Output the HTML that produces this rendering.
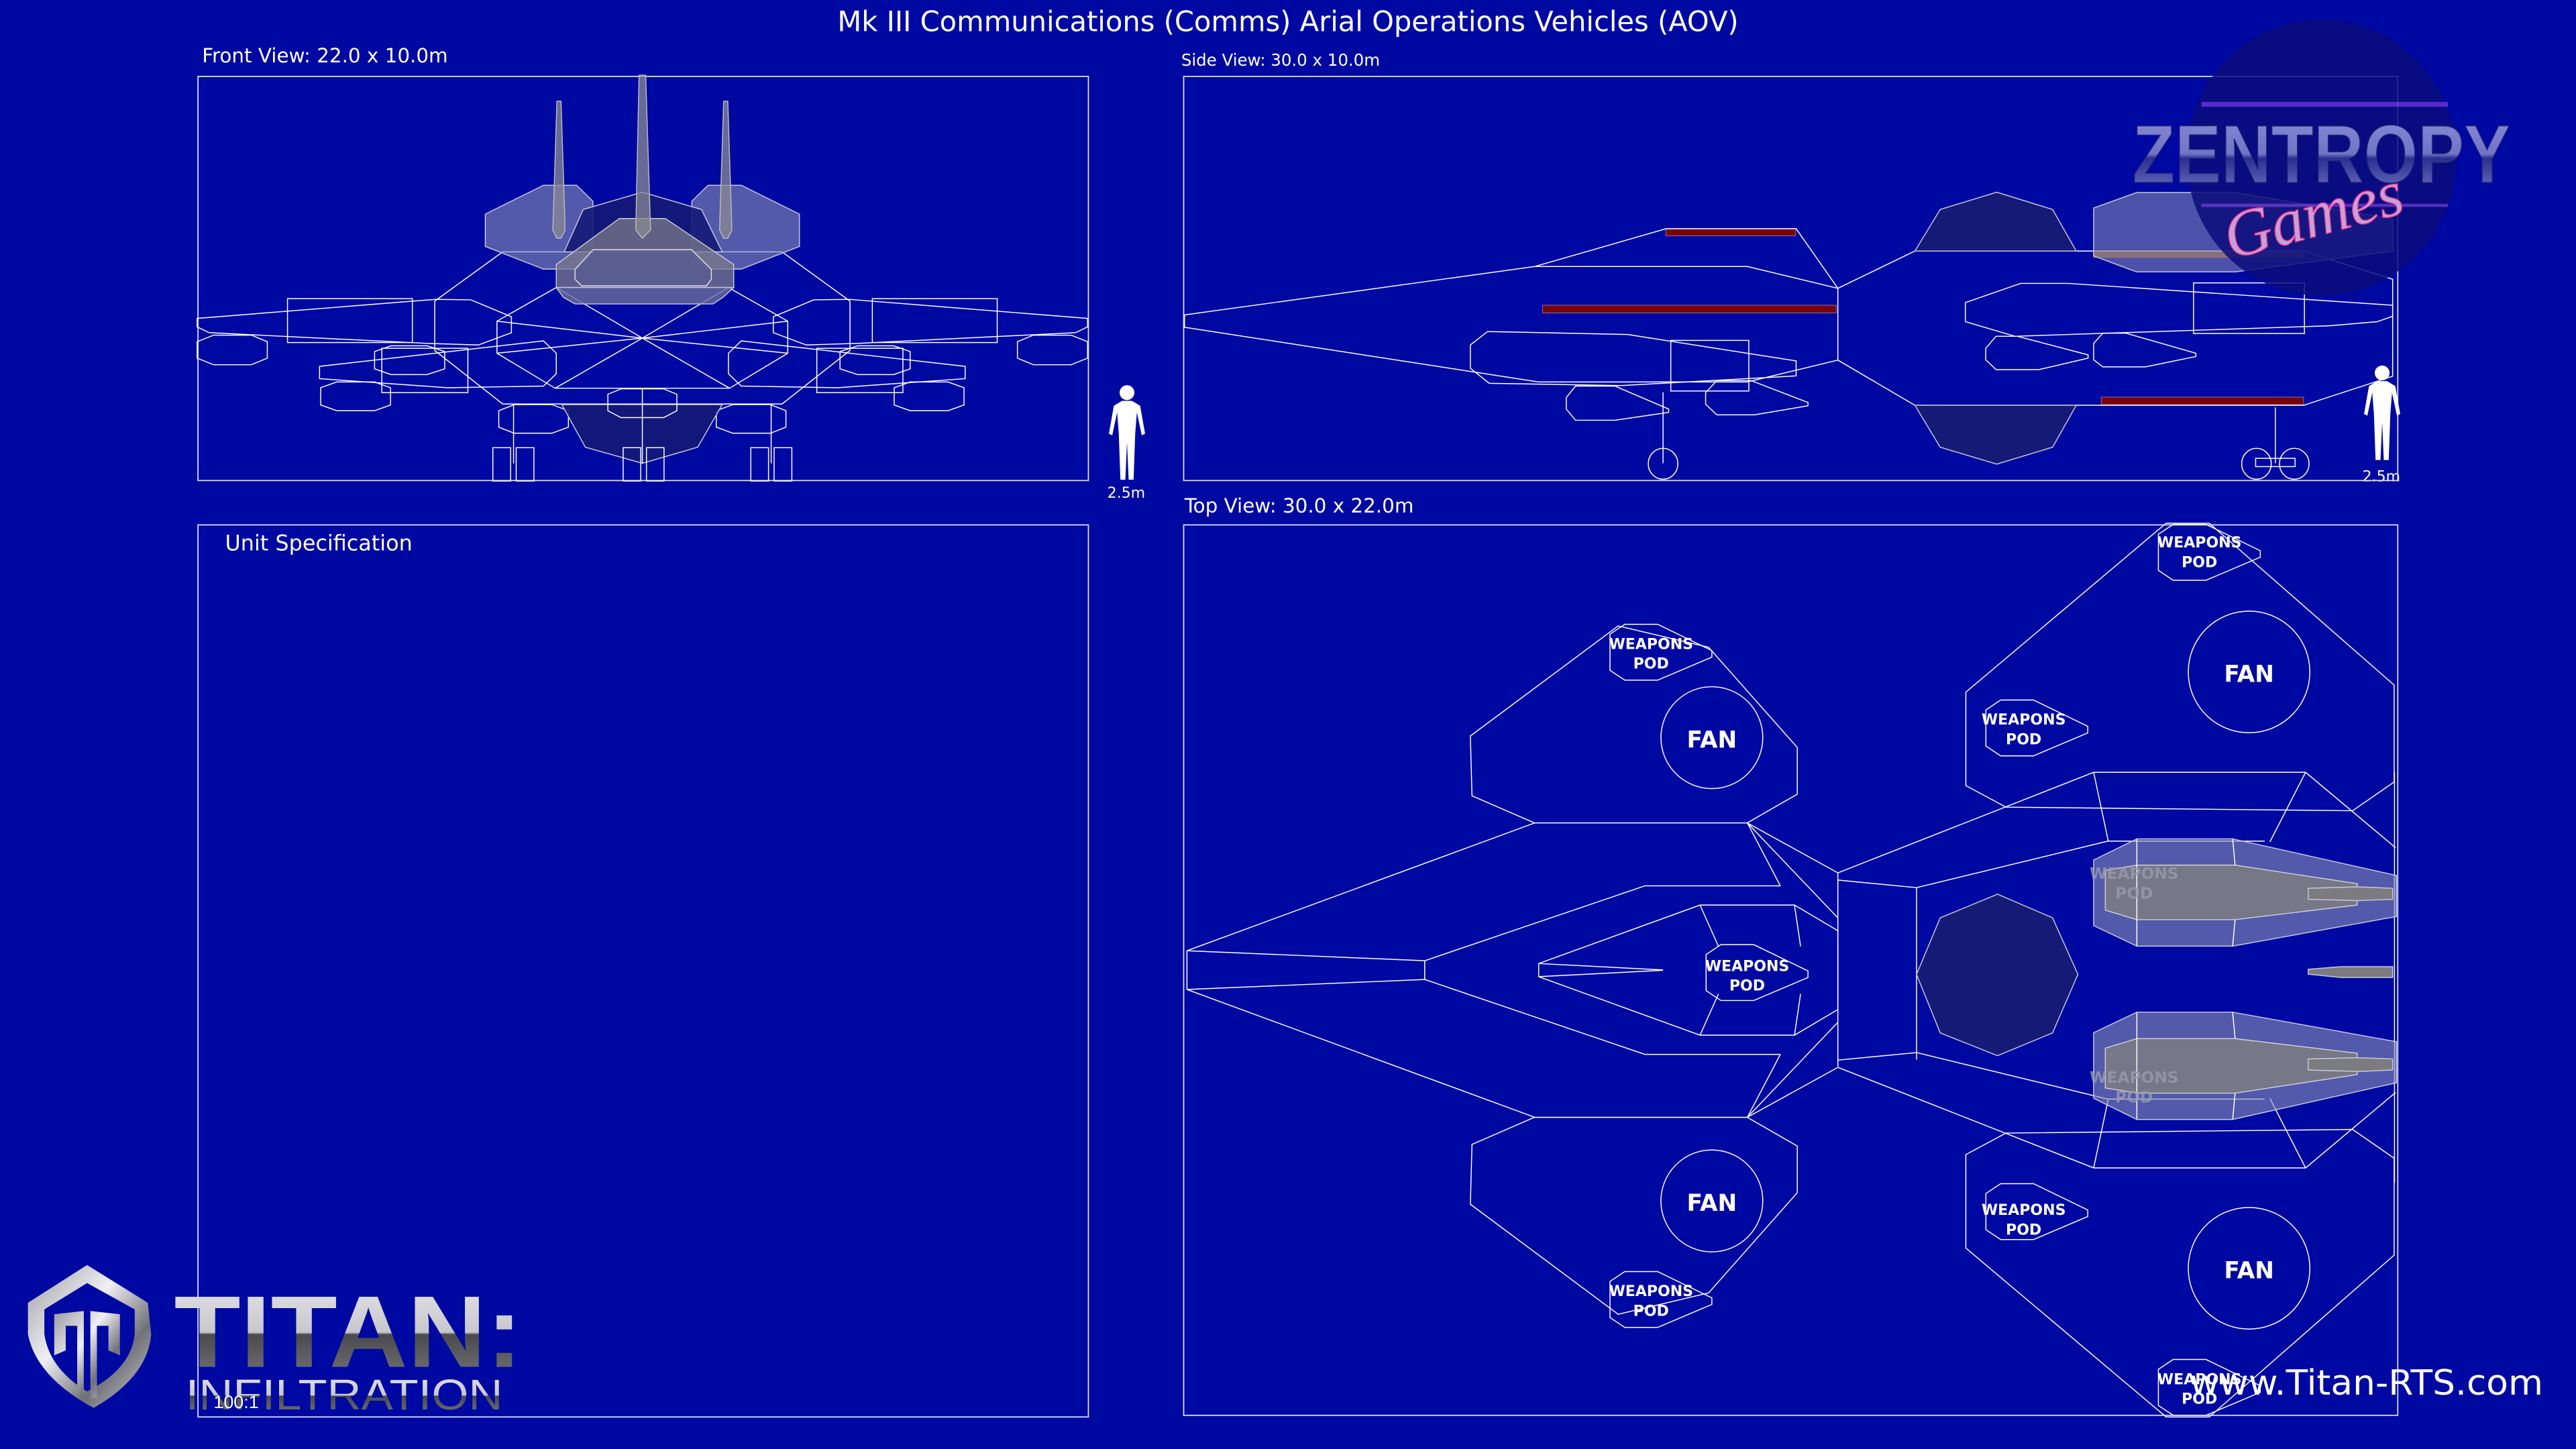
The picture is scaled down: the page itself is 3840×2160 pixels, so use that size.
<!DOCTYPE html>
<html><head><meta charset="utf-8"><style>
html,body{margin:0;padding:0;background:#0008a2;}
svg{display:block}
</style></head><body>
<svg width="3840" height="2160" viewBox="0 0 1568 882" preserveAspectRatio="none" xmlns="http://www.w3.org/2000/svg">
<rect x="0" y="0" width="1568" height="882" fill="#0008a2"/>
<g font-family="'DejaVu Sans','Liberation Sans',sans-serif" fill="#fff">
<text x="784" y="19" font-size="17" text-anchor="middle">Mk III Communications (Comms) Arial Operations Vehicles (AOV)</text>
<text x="123" y="38" font-size="12">Front View: 22.0 x 10.0m</text>
<text x="719" y="40" font-size="10">Side View: 30.0 x 10.0m</text>
<text x="137" y="335" font-size="13">Unit Specification</text>
<text x="721" y="312" font-size="12">Top View: 30.0 x 22.0m</text>
<text x="674" y="303" font-size="9">2.5m</text>
<text x="1438" y="293" font-size="9">2.5m</text>
</g>
<g fill="none" stroke="#dfe2ff" stroke-width="0.7">
<rect x="120.5" y="46.5" width="542" height="246"/>
<rect x="720.5" y="46.5" width="739" height="246"/>
<rect x="120.5" y="319.5" width="542" height="543"/>
<rect x="720.5" y="319.5" width="739" height="542"/>
</g>

<!-- FRONT VIEW -->
<g stroke="#fff" stroke-width="0.6" fill="none">
 <g id="fhalf">
  <polygon points="120,193.8 265.3,182.2 286.6,182.5 311.3,192.8 311.3,202.5 291.2,210 260,209 127.3,202.5 120,199"/>
  <rect x="175" y="181.8" width="76" height="26.7"/>
  <polygon points="194.5,223 330.8,207.5 338.6,215 338.6,227.5 330.8,235 272.4,236 194.5,230.5"/>
  <rect x="232.4" y="212" width="52.4" height="27"/>
  <polygon points="120,208 130,204 153,204 162.7,208 162.7,218 153,222 130,222 120,218"/>
  <polygon points="228,214 238,210.5 260,210.5 270.7,214 270.7,224.5 260,228 238,228 228,224.5"/>
  <polygon points="195.2,236 205,232.5 228,232.5 237.7,236 237.7,246.5 228,250 205,250 195.2,246.5"/>
  <polygon points="303.6,250 313,246.3 336,246.3 346,250 346,260 336,263.7 313,263.7 303.6,260"/>
  <rect x="300" y="272.5" width="10.8" height="20.3"/>
  <rect x="314.2" y="272.5" width="10.8" height="20.3"/>
  <line x1="312.6" y1="246" x2="312.6" y2="282"/>
  <polyline points="391,153.3 306,153.3 264.6,183.3 264.6,213.3 306,245.9 391,245.9"/>
  <polyline points="391,175 338.6,175 302.5,195.5 302.5,215 337.9,236.3 391,236.3"/>
  <line x1="391" y1="205.8" x2="338.6" y2="175"/>
  <line x1="391" y1="205.8" x2="302.5" y2="195.5"/>
  <line x1="391" y1="205.8" x2="302.5" y2="215"/>
  <line x1="391" y1="205.8" x2="337.9" y2="236.3"/>
  <polygon points="295.4,130.3 330.8,112.8 351,112.8 360.9,122.5 360.9,154.2 351,163.8 330.8,163.8 295.4,150" fill="#8a8fb0" fill-opacity="0.6" stroke="#c8c8d8"/>
  <polygon points="339,61.6 341.5,61.6 344,140 341.5,145 339,145 336.5,140" fill="#8a8a92" fill-opacity="0.75" stroke="#bbb"/>
 </g>
 <use href="#fhalf" transform="matrix(-1,0,0,1,782,0)"/>
 <polygon points="343.4,153.3 355,127.5 391,117 427,127.5 439.6,153.3" fill="#141a75" fill-opacity="0.9" stroke="#c8c8d8"/>
 <polygon points="377,133 405,133 446.6,161 446.6,175 338.6,175 338.6,161" fill="#7b7b88" fill-opacity="0.75" stroke="#c8c8d8"/>
 <polygon points="338.6,175 446.6,175 440,181 434,185 350,185 343,181" fill="#6c6e9a" fill-opacity="0.8" stroke="#c8c8d8"/>
 <polygon points="350,164 361,152 421,152 433,164 433,170 430,174 354,174 350,170" fill="#5a5c90" fill-opacity="0.8" stroke="#e0e0ea"/>
 <polygon points="389,45.8 393,45.8 396,140 391,145 387,140" fill="#8a8a92" fill-opacity="0.75" stroke="#bbb"/>
 <polygon points="342,246.3 439.6,246.3 424.7,272.2 391,282 356.3,272.2" fill="#141a75" fill-opacity="0.9" stroke="#c8c8d8"/>
 <polygon points="370,240 378,236.7 404,236.7 412,240 412,250 404,254.2 378,254.2 370,250"/>
 <line x1="391" y1="236" x2="391" y2="282"/>
 <rect x="379.3" y="272.5" width="10.7" height="20.3"/>
 <rect x="393.5" y="272.5" width="10.7" height="20.3"/>
</g>

<!-- SIDE VIEW -->
<g stroke="#fff" stroke-width="0.6" fill="none">
 <polygon points="721,191.7 934.3,162.2 1063.6,162.2 1118.7,175.5 1118.7,219.2 1063.6,232.5 936.6,232.5 721,199.2"/>
 <polyline points="934.3,162.2 1014.2,139.2 1093.3,139.2 1118.7,175.5"/>
 <polyline points="1118.7,175.5 1165.6,152.8 1402,152.8 1456.4,170 1456.4,229 1402.2,246.7 1165.6,246.7 1118.7,219.2"/>
 <polygon points="1165.6,152.8 1181,127.5 1215.4,117 1249.4,127.5 1263.8,152.8" fill="#141a75" stroke="#c8c8d8"/>
 <polygon points="1165.6,246.7 1181,272.2 1215.4,282.5 1249.4,272.2 1263.8,246.7" fill="#141a75" stroke="#c8c8d8"/>
 <rect x="1274" y="153" width="128" height="4" fill="#8a4a40" stroke="none"/>
 <polygon points="1274.4,126.6 1300.6,117.2 1360.6,117.2 1456.4,133.3 1456.4,152.8 1360.6,165.5 1300.6,165.5 1274.4,155.8" fill="#8a8fb0" fill-opacity="0.55" stroke="#c8c8d8"/>
 <polygon points="1196.3,184.2 1230,172.5 1259,172.5 1456.4,185.8 1456.4,192.5 1447,195.8 1418,198.3 1226.5,204.7 1196.3,195.8"/>
 <rect x="1335.2" y="172.2" width="67.5" height="30.8"/>
 <polygon points="1208.7,212 1215,204.7 1228,204.7 1271,216 1271,218 1241,225 1215,225 1208.7,219"/>
 <polygon points="1274.4,209 1280,202.8 1294,202.8 1336.6,215 1336.6,217 1306,223.3 1280,223.3 1274.4,219"/>
 <polygon points="905.5,201.8 990.8,203.6 1093.3,219.7 1093.3,228.8 987,234.7 906.5,233.3 895,224.2 895,210"/>
 <rect x="1017" y="207.2" width="47.5" height="30.8"/>
 <polygon points="953.4,242 959,235 983,235 1015.7,249 1015.7,251 983,255.8 959,255.8 953.4,249"/>
 <polygon points="1038.2,239 1045,231.7 1066,231.7 1100.5,245 1100.5,247 1068,252.5 1045,252.5 1038.2,246"/>
 <rect x="1014" y="139.5" width="79" height="4" fill="#7a0008" stroke="#9a9ab8" stroke-width="0.3"/>
 <rect x="939" y="185.8" width="178.7" height="4.7" fill="#7a0008" stroke="#9a9ab8" stroke-width="0.3"/>
 <rect x="1279" y="241.7" width="123.2" height="4.6" fill="#7a0008" stroke="#9a9ab8" stroke-width="0.3"/>
 <line x1="1012.3" y1="238.8" x2="1012.3" y2="282"/>
 <ellipse cx="1012.3" cy="282.3" rx="9" ry="9.4"/>
 <ellipse cx="1373.5" cy="282.3" rx="9" ry="9.4"/>
 <ellipse cx="1396.5" cy="282.3" rx="9" ry="9.4"/>
 <line x1="1385" y1="248" x2="1385" y2="282"/>
 <rect x="1373" y="279" width="24" height="5"/>
</g>

<!-- TOP VIEW -->
<g stroke="#fff" stroke-width="0.6" fill="none">
 <g id="wingsTop">
  <polygon points="895,448 985,381 1040,394 1094,455 1094,483.4 1063.6,500.9 934,500.9 896,484.4"/>
  <polygon points="1196.6,421.3 1318.5,318.5 1344.8,318.5 1457.3,417 1457.3,476 1432,493.5 1221,491.3 1196.6,478.2"/>
  <polyline points="1118.7,531.3 1274.4,470.1 1403.4,470.1 1458.2,516"/>
  <line x1="1274.4" y1="470.1" x2="1283.3" y2="512"/>
  <line x1="1403.4" y1="470.1" x2="1381.7" y2="512.4"/>
  <polyline points="1166.6,540.3 1283,512 1378.5,512"/>
  <line x1="1063.6" y1="500.9" x2="1083.7" y2="539.2"/>
  <line x1="1063.6" y1="500.9" x2="1118.7" y2="558.7"/>
  <polyline points="867.2,584.8 1001.3,539.2 1083.7,539.2"/>
  <polyline points="936.6,586.5 1034.8,550.9 1092.3,550.9 1118.7,566.5"/>
  <line x1="936.6" y1="586.5" x2="1012.3" y2="590.4"/>
  <line x1="1034.8" y1="550.9" x2="1046" y2="576"/>
  <line x1="1092.3" y1="550.9" x2="1096" y2="576"/>
  <polyline points="722.5,578.7 934.2,500.9 1063.6,500.9 1118.7,531.3"/>
  <line x1="722.5" y1="578.7" x2="867.2" y2="584.8"/>
  <line x1="1118.7" y1="535.7" x2="1166.6" y2="540.3"/>
 </g>
 <use href="#wingsTop" transform="matrix(1,0,0,-1,0,1181)"/>
 <line x1="722.5" y1="578.7" x2="722.5" y2="602.3"/>
 <line x1="867.2" y1="584.8" x2="867.2" y2="596.2"/>
 <line x1="936.6" y1="586.5" x2="936.6" y2="594.5"/>
 <polyline points="1118.7,531.3 1118.7,649.3"/>
 <polyline points="1166.6,540.3 1166.6,645"/>
 <line x1="1118.7" y1="566.5" x2="1118.7" y2="614.5"/>
 <polygon points="1215.9,544.3 1249.4,558.7 1264.8,593.1 1249.4,628.7 1215.9,642.6 1181,628.7 1166.6,593.1 1181,558.7" fill="#141a75" stroke="#c8c8d8"/>
 <line x1="1457.5" y1="470" x2="1457.5" y2="720"/>
 <g id="eng">
  <polygon points="1300.7,510.6 1359,510.6 1458.7,532.9 1458.7,557.9 1359,575.9 1300.7,575.9 1274.4,563.4 1274.4,523.5" fill="#8a8fb0" fill-opacity="0.6" stroke="#c8c8d8"/>
  <polygon points="1281.5,529.8 1300.7,526.6 1360.5,526.6 1434.8,537.9 1434.8,550.9 1360.5,559.8 1300.7,559.8 1281.5,554" fill="#7c7c80" fill-opacity="0.85" stroke="#d0d0d8"/>
  <line x1="1300.7" y1="510.6" x2="1300.7" y2="575.9"/>
  <line x1="1359" y1="510.6" x2="1360.5" y2="526.6"/>
  <line x1="1359" y1="575.9" x2="1360.5" y2="559.8"/>
  <polygon points="1405,540.7 1436,539.8 1456.4,540.7 1456.4,547.4 1436,548.2 1405,547.4" fill="#7c7c80" stroke="#c8c8d8"/>
 </g>
 <use href="#eng" transform="matrix(1,0,0,-1,0,1192)"/>
 <polygon points="1405,590 1425,588.4 1456.4,588.4 1456.4,595 1425,595 1405,593" fill="#7c7c80" stroke="#c8c8d8"/>
 <g font-family="'DejaVu Sans','Liberation Sans',sans-serif" font-size="9.5" fill="#9a9ab0" stroke="none" text-anchor="middle" font-weight="bold" opacity="0.8">
  <text x="1299" y="535">WEAPONS</text><text x="1299" y="547">POD</text>
  <text x="1299" y="659">WEAPONS</text><text x="1299" y="671">POD</text>
 </g>
 <circle cx="1042" cy="449" r="31"/>
 <circle cx="1042" cy="731" r="31"/>
 <circle cx="1369" cy="409" r="37"/>
 <circle cx="1369" cy="772" r="37"/>
</g>
<g font-family="'DejaVu Sans','Liberation Sans',sans-serif" font-weight="bold" fill="#fff" text-anchor="middle">
 <text x="1042" y="455" font-size="14">FAN</text>
 <text x="1042" y="737" font-size="14">FAN</text>
 <text x="1369" y="415" font-size="14">FAN</text>
 <text x="1369" y="778" font-size="14">FAN</text>
</g>
<g font-family="'DejaVu Sans','Liberation Sans',sans-serif" font-weight="bold" font-size="9" fill="#fff" text-anchor="middle">
 <g transform="translate(1313.8,319.2)"><polygon points="0,6 9,0 29,0 62,16 62,20 29,34 9,34 0,28" fill="none" stroke="#fff" stroke-width="0.6"/><text x="25" y="14">WEAPONS</text><text x="25" y="26">POD</text></g>
 <g transform="translate(1208.8,426.1)"><polygon points="0,6 9,0 29,0 62,16 62,20 29,34 9,34 0,28" fill="none" stroke="#fff" stroke-width="0.6"/><text x="23" y="15">WEAPONS</text><text x="23" y="27">POD</text></g>
 <g transform="translate(980,380)"><polygon points="0,6 9,0 29,0 62,16 62,20 29,34 9,34 0,28" fill="none" stroke="#fff" stroke-width="0.6"/><text x="25" y="15">WEAPONS</text><text x="25" y="27">POD</text></g>
 <g transform="translate(1038.5,575)"><polygon points="0,6 9,0 29,0 62,16 62,20 29,34 9,34 0,28" fill="none" stroke="#fff" stroke-width="0.6"/><text x="25" y="16">WEAPONS</text><text x="25" y="28">POD</text></g>
 <g transform="translate(1208.8,720.5)"><polygon points="0,6 9,0 29,0 62,16 62,20 29,34 9,34 0,28" fill="none" stroke="#fff" stroke-width="0.6"/><text x="23" y="19">WEAPONS</text><text x="23" y="31">POD</text></g>
 <g transform="translate(980,774)"><polygon points="0,6 9,0 29,0 62,16 62,20 29,34 9,34 0,28" fill="none" stroke="#fff" stroke-width="0.6"/><text x="25" y="15">WEAPONS</text><text x="25" y="27">POD</text></g>
 <g transform="translate(1313.8,827.5)"><polygon points="0,6 9,0 29,0 62,16 62,20 29,34 9,34 0,28" fill="none" stroke="#fff" stroke-width="0.6"/><text x="25" y="15">WEAPONS</text><text x="25" y="27">POD</text></g>
</g>

<!-- humans -->
<g fill="#fff">
 <g transform="translate(686,234)">
  <circle cx="0" cy="5" r="4.5"/>
  <path d="M-3,10 L3,10 L8,13 L11,30 L9,31 L6,17 L5,30 L4,58 L1,58 L0,35 L-1,58 L-4,58 L-5,30 L-6,17 L-9,31 L-11,30 L-8,13 Z"/>
 </g>
 <g transform="translate(1450,222)">
  <circle cx="0" cy="5" r="4.5"/>
  <path d="M-3,10 L3,10 L8,13 L11,30 L9,31 L6,17 L5,30 L4,58 L1,58 L0,35 L-1,58 L-4,58 L-5,30 L-6,17 L-9,31 L-11,30 L-8,13 Z"/>
 </g>
</g>

<!-- Zentropy logo -->
<defs>
 <linearGradient id="zg" x1="0" y1="0" x2="0" y2="1">
  <stop offset="0" stop-color="#8a8ed8"/><stop offset="0.5" stop-color="#7074c4"/><stop offset="0.55" stop-color="#2a2e90"/><stop offset="1" stop-color="#7a7ec8"/>
 </linearGradient>
 <linearGradient id="sil" x1="0" y1="0" x2="0" y2="1">
  <stop offset="0" stop-color="#e6e6ea"/><stop offset="0.5" stop-color="#c8c8cc"/><stop offset="0.52" stop-color="#4a4a4e"/><stop offset="1" stop-color="#7a7a80"/>
 </linearGradient>
 <linearGradient id="shield" x1="0" y1="0" x2="1" y2="1">
  <stop offset="0" stop-color="#9a9aa0"/><stop offset="0.4" stop-color="#f0f0f4"/><stop offset="0.7" stop-color="#707078"/><stop offset="1" stop-color="#d0d0d4"/>
 </linearGradient>
</defs>
<ellipse cx="1413" cy="96" rx="82" ry="84" fill="#0a0c7a" opacity="0.85"/>
<rect x="1340" y="62" width="150" height="3" fill="#8a40ff" opacity="0.6"/>
<rect x="1340" y="124" width="150" height="2" fill="#a050ff" opacity="0.5"/>
<text x="1298" y="111" font-family="'Liberation Sans',sans-serif" font-weight="bold" font-size="50" textLength="230" lengthAdjust="spacingAndGlyphs" fill="url(#zg)" stroke="#20207a" stroke-width="0.6">ZENTROPY</text>
<text x="1352" y="146" font-family="'Liberation Serif',serif" font-style="italic" font-size="40" fill="#c8a0d8" stroke="#e0308a" stroke-width="0.6" transform="rotate(-15 1400 130)">Games</text>

<!-- Titan logo -->
<path d="M53,770 L90,793 L92,812 Q90,838 57,857 Q22,838 17,812 L17,793 Z M53,781 L27,797 L27,812 Q30,833 53,847 Q80,833 82,812 L82,797 Z" fill="url(#shield)" fill-rule="evenodd"/>
<path d="M33,800 L51,798 L51,851 L47,851 L47,807 L40,807 L40,822 L33,825 Z M73,800 L55,798 L55,851 L59,851 L59,807 L66,807 L66,822 L73,825 Z" fill="url(#shield)"/>
<text x="106" y="832" font-family="'Liberation Sans',sans-serif" font-weight="bold" font-size="62" textLength="212" lengthAdjust="spacingAndGlyphs" fill="url(#sil)">TITAN:</text>
<text x="113" y="858" font-family="'Liberation Sans',sans-serif" font-size="26" textLength="193" lengthAdjust="spacingAndGlyphs" fill="url(#sil)">INFILTRATION</text>
<text x="130" y="857" font-family="'Liberation Sans',sans-serif" font-size="11" fill="#fff">100:1</text>

<text x="1333" y="849" font-family="'DejaVu Sans','Liberation Sans',sans-serif" font-size="21" textLength="215" lengthAdjust="spacingAndGlyphs" fill="#fff">www.Titan-RTS.com</text>
</svg>
</body></html>
